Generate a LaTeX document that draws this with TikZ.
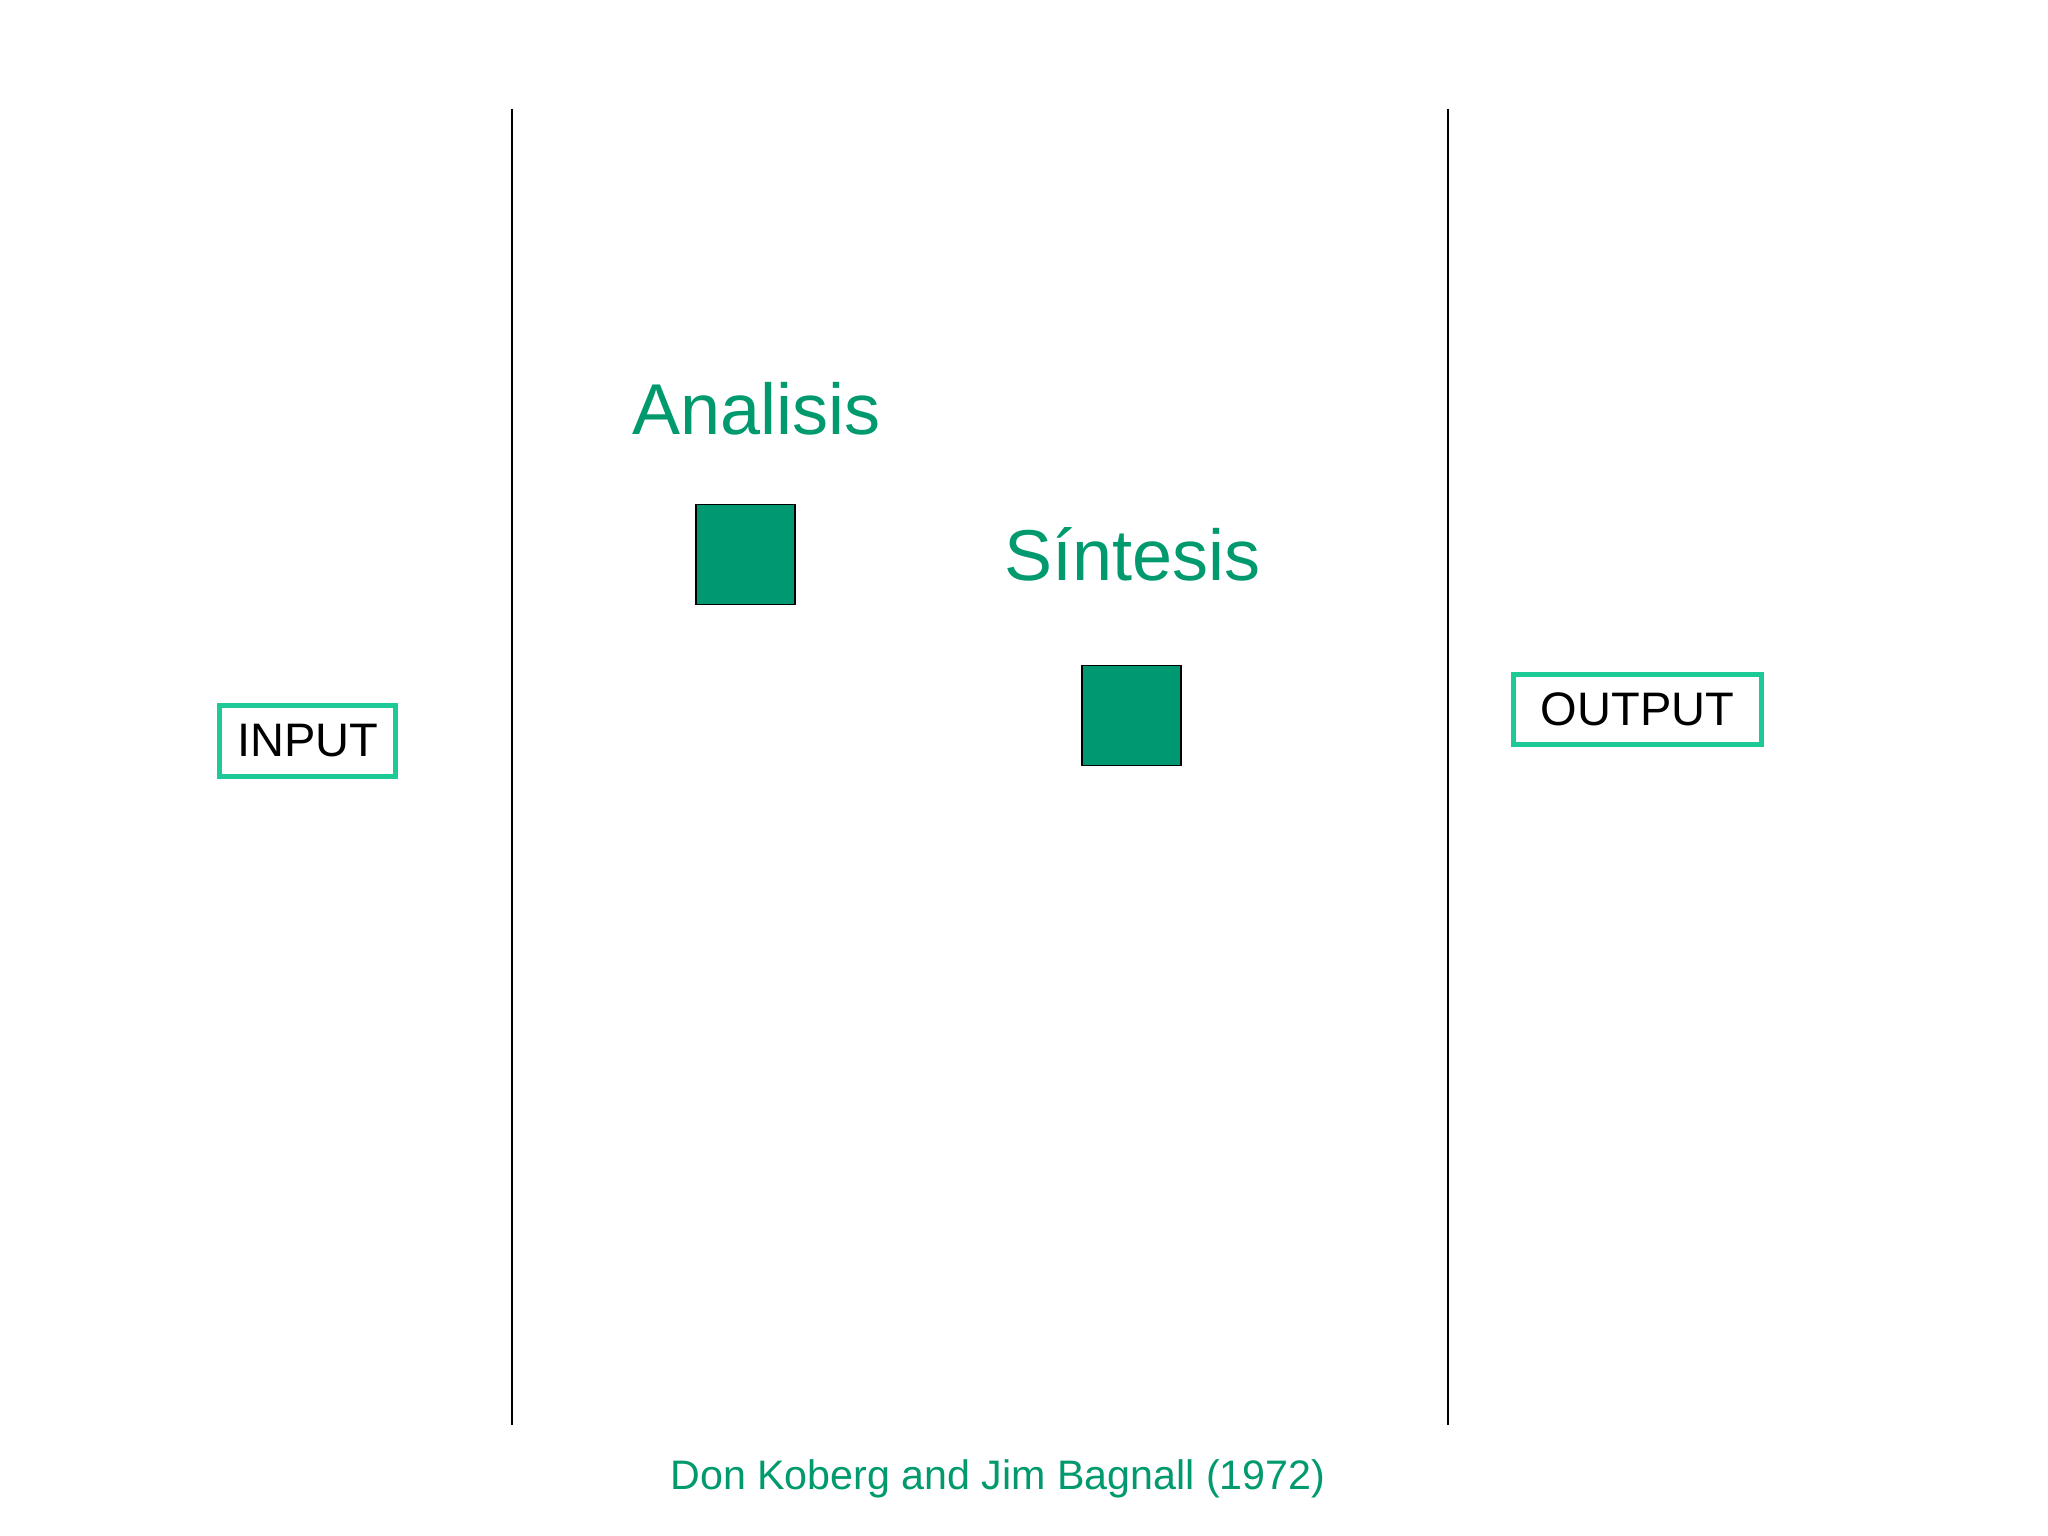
\documentclass[tikz,border=0pt]{standalone}
\usepackage{fontspec}
\setmainfont{Liberation Sans}
\definecolor{sqgreen}{RGB}{0,152,112}
\definecolor{txtgreen}{RGB}{0,154,110}
\definecolor{boxgreen}{RGB}{29,201,151}
\tikzset{
  sq/.style={draw=black, line width=0.75pt, fill=sqgreen, minimum width=49.5pt, minimum height=50pt, inner sep=0pt},
  iobox/.style={draw=boxgreen, line width=2.5pt, inner sep=0pt, text=black, font=\fontsize{23.5}{28}\selectfont},
  bigtitle/.style={text=txtgreen, inner sep=0pt, anchor=base west, font=\fontsize{36}{43}\selectfont},
  caption/.style={text=txtgreen, inner sep=0pt, anchor=base west, font=\fontsize{20.6}{25}\selectfont},
  divider/.style={draw=black, line width=1pt}
}
\begin{document}
\begin{tikzpicture}[x=0.5pt,y=-0.5pt]
\useasboundingbox[fill=white] (0,0) rectangle (2048,1535);
% dividers
\coordinate (l1) at (512,109);
\coordinate (l2) at (512,1425);
\coordinate (r1) at (1448,109);
\coordinate (r2) at (1448,1425);
\draw[divider] (l1) -- (l2);
\draw[divider] (r1) -- (r2);
% titles
\node[bigtitle] (analisis) at (632,434) {Analisis};
\node[bigtitle] (sintesis) at (1004,580) {Síntesis};
% squares
\node[sq] (sqa) at (745.5,554.5) {};
\node[sq] (sqs) at (1131.5,715.5) {};
% input / output
\node[iobox, minimum width=88pt, minimum height=35.5pt] (input) at (307.5,741) {INPUT};
\node[iobox, minimum width=124pt, minimum height=35pt] (output) at (1637.5,709.5) {OUTPUT};
% caption
\node[caption] (cap) at (670,1489) {Don Koberg and Jim Bagnall (1972)};
\end{tikzpicture}
\end{document}
